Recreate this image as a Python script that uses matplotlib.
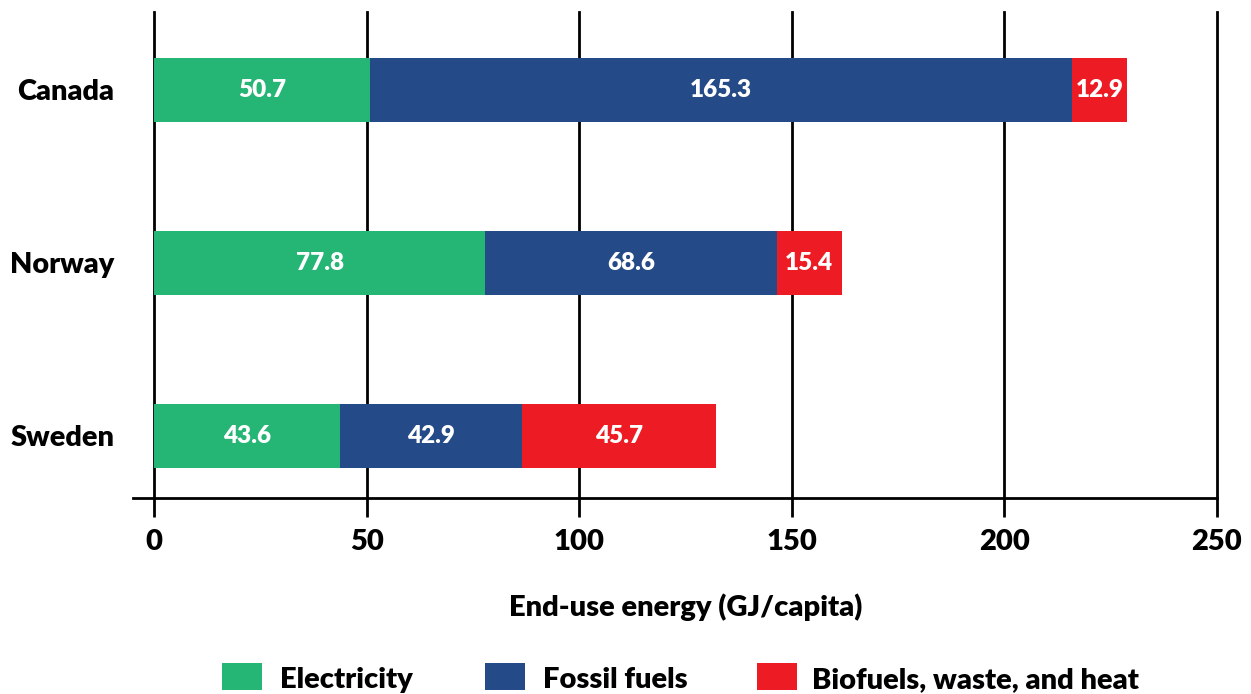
import matplotlib
matplotlib.use("Agg")
import matplotlib.pyplot as plt
from matplotlib.patches import Rectangle
from matplotlib.transforms import blended_transform_factory

plt.rcParams['font.family'] = ['Lato', 'DejaVu Sans']
W = 'heavy'
plt.rcParams['font.weight'] = W

countries = ["Canada", "Norway", "Sweden"]
electricity = [50.7, 77.8, 43.6]
fossil = [165.3, 68.6, 42.9]
biofuels = [12.9, 15.4, 45.7]
series_names = ["Electricity", "Fossil fuels", "Biofuels, waste, and heat"]
colors = ["#25B574", "#244B87", "#ED1C24"]
xticks = [0, 50, 100, 150, 200, 250]

FW, FH = 1251, 694
fig = plt.figure(figsize=(FW/100, FH/100), dpi=100)
ax = fig.add_axes([133/FW, 1-498/FH, (1217-133)/FW, (498-12)/FH])

y = list(range(len(countries)))
left = [0]*len(countries)
for vals, col in zip([electricity, fossil, biofuels], colors):
    ax.barh(y, vals, left=left, height=0.37, color=col, zorder=3)
    for yi, l, v in zip(y, left, vals):
        ax.text(l + v/2, yi, f"{v:.1f}", ha='center', va='center',
                color='white', fontsize=17.5, fontweight=W, zorder=4)
    left = [a + b for a, b in zip(left, vals)]

ax.set_xlim(-5, 250)
ax.set_ylim(2.36, -0.45)
ax.set_xticks(xticks)
ax.set_xticklabels([str(t) for t in xticks], fontsize=21, fontweight=W)
ax.set_yticks(y)
ax.set_yticklabels(countries, fontsize=20.8, fontweight=W)
ax.tick_params(axis='y', length=0, pad=13.5)
ax.tick_params(axis='x', length=14, width=2, direction='out', pad=8, color='black')
ax.grid(axis='x', color='black', linewidth=2, zorder=0)
for gl in ax.get_xgridlines():
    gl.set_clip_on(False)
ax.set_axisbelow(True)
for s in ['top', 'right', 'left']:
    ax.spines[s].set_visible(False)
ax.spines['bottom'].set_linewidth(2)

trans = blended_transform_factory(ax.transData, fig.transFigure)
fig.text(125, 1-607/FH, "End-use energy (GJ/capita)", transform=trans,
         ha='center', va='center', fontsize=21, fontweight=W)

# legend
box_x = [222, 485, 757]
text_x = [280, 543, 812]
for bx, tx, name, col in zip(box_x, text_x, series_names, colors):
    fig.add_artist(Rectangle((bx/FW, 1-690/FH), 40/FW, 27/FH, transform=fig.transFigure,
                             facecolor=col, edgecolor='none'))
    fig.text(tx/FW, 1-688/FH, name, ha='left', va='baseline', fontsize=21, fontweight=W)

fig.savefig("out.png", dpi=100)
